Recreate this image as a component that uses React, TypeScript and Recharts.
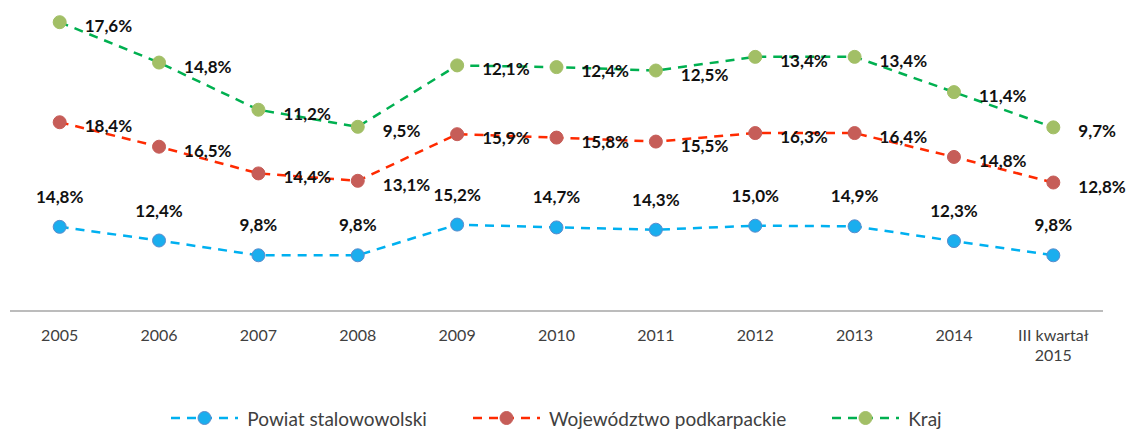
import React from 'react';
import { Area, ComposedChart, LabelList, Legend, XAxis, YAxis } from 'recharts';

const years = ['2005', '2006', '2007', '2008', '2009', '2010', '2011', '2012', '2013', '2014', 'III kwartał\n2015'];
const powiat = [14.8, 12.4, 9.8, 9.8, 15.2, 14.7, 14.3, 15.0, 14.9, 12.3, 9.8];
const wojewodztwo = [18.4, 16.5, 14.4, 13.1, 15.9, 15.8, 15.5, 16.3, 16.4, 14.8, 12.8];
const kraj = [17.6, 14.8, 11.2, 9.5, 12.1, 12.4, 12.5, 13.4, 13.4, 11.4, 9.7];

const FONT = 'Lato, "Open Sans", sans-serif';

const data = years.map((year, i) => ({
  year,
  powiat: powiat[i],
  wojewodztwo: wojewodztwo[i],
  kraj: kraj[i],
}));

const SERIES = [
  { key: 'powiat', name: 'Powiat stalowowolski', values: powiat, line: '#00b0f0', dot: '#1aaeee', dotStroke: '#5b8ccc', pos: 'top' },
  { key: 'wojewodztwo', name: 'Województwo podkarpackie', values: wojewodztwo, line: '#ff2a00', dot: '#c65d58', dotStroke: '#c65d58', pos: 'right' },
  { key: 'kraj', name: 'Kraj', values: kraj, line: '#00b050', dot: '#a2bf66', dotStroke: '#a2bf66', pos: 'right' },
];

const fmt = (v: number) => v.toFixed(1).replace('.', ',') + '%';

function makeLabel(values: number[], pos: string) {
  return (props: any) => {
    const { x, y, index } = props;
    const v = values[index];
    if (pos === 'top') {
      return (
        <text x={x} y={y - 24} textAnchor="middle" fontFamily={FONT} fontSize={17} fontWeight={700} fill="#111">
          {fmt(v)}
        </text>
      );
    }
    return (
      <text x={x + 25} y={y + 10} textAnchor="start" fontFamily={FONT} fontSize={17} fontWeight={700} fill="#111">
        {fmt(v)}
      </text>
    );
  };
}

function YearTick({ x, y, payload }: any) {
  const lines = String(payload.value).split('\n');
  return (
    <text x={x} y={y + 22} textAnchor="middle" fontFamily={FONT} fontSize={16} fill="#404040">
      {lines.map((l, i) => (
        <tspan key={i} x={x} dy={i === 0 ? 0 : 20}>
          {l}
        </tspan>
      ))}
    </text>
  );
}

function LegendContent() {
  return (
    <div style={{ display: 'flex', justifyContent: 'center', alignItems: 'center', height: 40, paddingTop: 16, boxSizing: 'border-box', fontFamily: FONT, fontSize: 19, color: '#404040' }}>
      {SERIES.map((s) => (
        <div key={s.key} style={{ display: 'flex', alignItems: 'center', margin: '0 23px' }}>
          <svg width={67} height={16} style={{ marginRight: 9 }}>
            <line x1={0} y1={8} x2={67} y2={8} stroke={s.line} strokeWidth={2.5} strokeDasharray="9 7" />
            <circle cx={33.5} cy={8} r={6.5} fill={s.dot} stroke={s.dotStroke} strokeWidth={1} />
          </svg>
          <span>{s.name}</span>
        </div>
      ))}
    </div>
  );
}

export default function App() {
  return (
    <div style={{ position: 'absolute', left: 0, top: 0, width: 1126, height: 430, background: '#fff' }}>
      <ComposedChart width={1126} height={430} data={data} margin={{ top: 4, right: 23, bottom: 0, left: 10 }}>
        <XAxis
          dataKey="year"
          scale="band"
          interval={0}
          height={79}
          tickLine={false}
          axisLine={{ stroke: '#a6a6a6', strokeWidth: 1.5 }}
          tick={<YearTick />}
        />
        <YAxis hide domain={[0, 54]} allowDataOverflow />
        {SERIES.map((s) => (
          <Area
            key={s.key}
            dataKey={s.key}
            name={s.name}
            stackId="1"
            type="linear"
            fill="none"
            fillOpacity={1}
            stroke={s.line}
            strokeWidth={2.5}
            strokeDasharray="9 7"
            dot={{ r: 6.5, fill: s.dot, fillOpacity: 1, stroke: s.dotStroke, strokeWidth: 1, strokeDasharray: '0' }}
            activeDot={false}
            isAnimationActive={false}
          >
            <LabelList dataKey={s.key} content={makeLabel(s.values, s.pos)} />
          </Area>
        ))}
        <Legend verticalAlign="bottom" height={40} content={<LegendContent />} />
      </ComposedChart>
    </div>
  );
}
